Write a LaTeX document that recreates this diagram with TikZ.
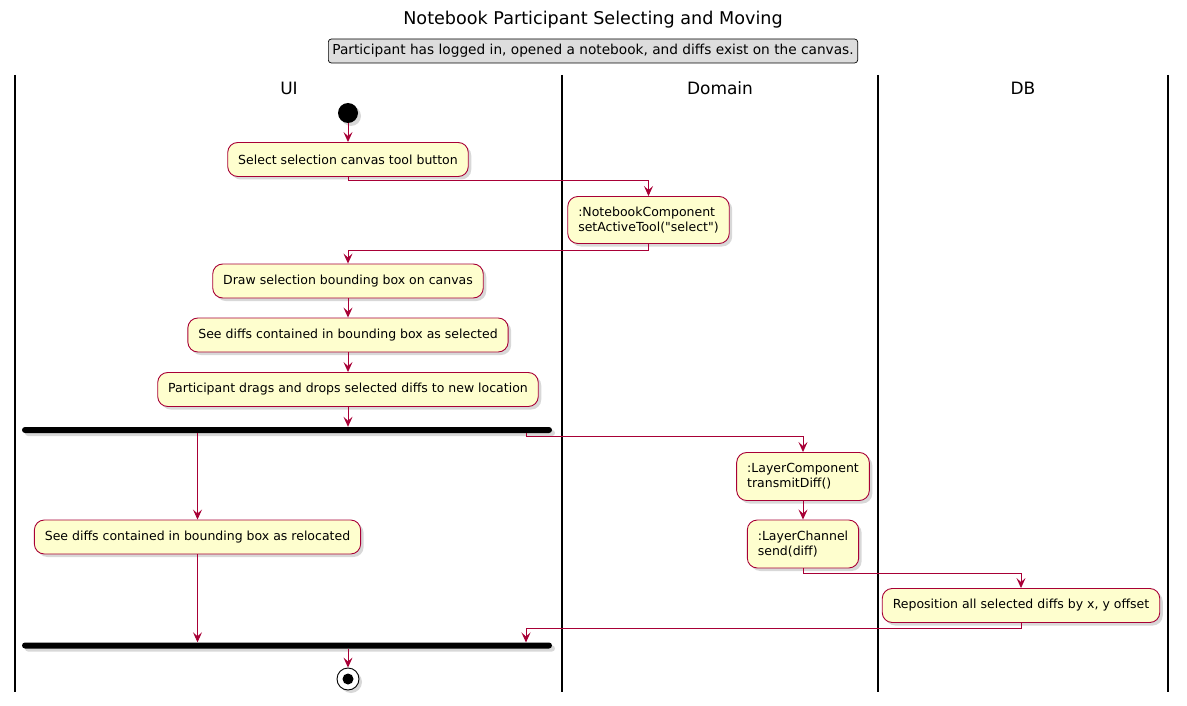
\documentclass[tikz,border=0pt]{standalone}
\usepackage{fontspec}
\setmainfont{DejaVu Sans}[Ligatures=TeXOff]
\usetikzlibrary{arrows.meta,shadows}
\definecolor{umlred}{HTML}{A80036}
\definecolor{umlfill}{HTML}{FEFECE}
\definecolor{notegray}{HTML}{DDDDDD}

\tikzstyle{action}=[draw=umlred,fill=umlfill,rounded corners=10pt,line width=0.9pt,inner xsep=10.5pt,minimum height=34pt,font=\fontsize{12.5}{15}\selectfont,drop shadow={shadow xshift=3pt,shadow yshift=-3pt,fill=black!30}]
\tikzstyle{flow}=[draw=umlred,line width=0.9pt,-{Stealth[length=10pt,width=9pt,inset=4pt]}]
\tikzstyle{lane}=[draw,line width=1.5pt]
\tikzstyle{lanehead}=[font=\fontsize{17}{20}\selectfont]
\tikzstyle{bar}=[fill=black,rounded corners=3pt,minimum width=530pt,minimum height=6pt,inner sep=0pt,drop shadow={shadow xshift=3pt,shadow yshift=-3pt,fill=black!30}]
\tikzstyle{start}=[circle,fill=black,minimum size=20pt,inner sep=0pt,drop shadow={shadow xshift=3pt,shadow yshift=-3pt,fill=black!30}]
\tikzstyle{stop}=[circle,draw,fill=white,line width=0.9pt,minimum size=22pt,inner sep=0pt,drop shadow={shadow xshift=3pt,shadow yshift=-3pt,fill=black!30}]
\tikzstyle{note}=[draw,fill=notegray,rounded corners=3pt,line width=0.7pt,inner xsep=4pt,minimum height=24pt,font=\fontsize{13.7}{16}\selectfont]

\begin{document}
\begin{tikzpicture}[x=1pt,y=-1pt]
    \useasboundingbox (0,0) rectangle (1187,706);
    % Title and precondition
    \node[font=\fontsize{17.6}{20}\selectfont] (title) at (593,20) {Notebook Participant Selecting and Moving};
    \node[note] (cond) at (593,51) {Participant has logged in, opened a notebook, and diffs exist on the canvas.};
    % Swimlanes
    \foreach \x in {15,562,878,1168}
        \draw[lane] (\x,75) -- (\x,692);
    \foreach \pos/\name/\txt in {{(289,88)/ui/UI}, {(720,88)/dom/Domain}, {(1023,88)/db/DB}}
        \node[lanehead] (\name) at \pos {\txt};
    % Activities
    \node[start] (init) at (348,113) {};
    \node[action] (seltool) at (348,159.5) {Select selection canvas tool button};
    \node[action,align=left,minimum height=47pt] (nbcomp) at (648.5,220) {:NotebookComponent\\setActiveTool("select")};
    \node[action] (drawbox) at (348,281) {Draw selection bounding box on canvas};
    \node[action] (seesel) at (348,335) {See diffs contained in bounding box as selected};
    \node[action] (drag) at (348,389.5) {Participant drags and drops selected diffs to new location};
    \node[bar] (fork) at (287,430) {};
    \node[action] (reloc) at (197.5,537) {See diffs contained in bounding box as relocated};
    \node[action,align=left,minimum height=48pt] (laycomp) at (803,476.5) {:LayerComponent\\transmitDiff()};
    \node[action,align=left,minimum height=48pt] (laychan) at (803,544) {:LayerChannel\\send(diff)};
    \node[action] (repos) at (1021,605.5) {Reposition all selected diffs by x, y offset};
    \node[bar] (join) at (287,645.5) {};
    \node[stop] (final) at (348,679) {};
    \fill (final) circle (5.5pt);
    \coordinate (forkout) at (526,433);
    \coordinate (joinin) at (526,642.5);
    % Connect activities with flows
    \draw[flow] (init) -- (seltool);
    \draw[flow] (seltool.south) -- ++(0,4) -| (nbcomp.north);
    \draw[flow] (nbcomp.south) -- ++(0,6) -| (drawbox.north);
    \draw[flow] (drawbox) -- (seesel);
    \draw[flow] (seesel) -- (drag);
    \draw[flow] (drag.south) -- (drag.south |- fork.north);
    \draw[flow] (fork.south -| reloc.north) -- (reloc.north);
    \draw[flow] (forkout) -- ++(0,3.5) -| (laycomp.north);
    \draw[flow] (laycomp) -- (laychan);
    \draw[flow] (laychan.south) -- ++(0,5) -| (repos.north);
    \draw[flow] (repos.south) -- ++(0,5.5) -| (joinin);
    \draw[flow] (reloc.south) -- (reloc.south |- join.north);
    \draw[flow] (join.south -| final.north) -- (final.north);
\end{tikzpicture}
\end{document}
